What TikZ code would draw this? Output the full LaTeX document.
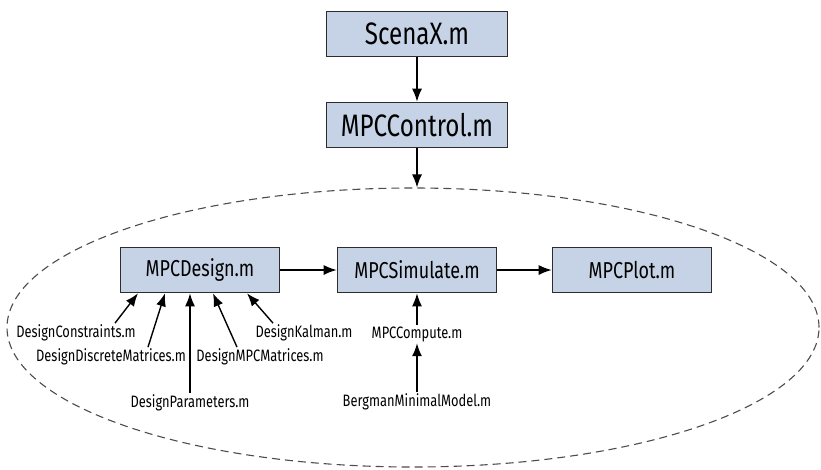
\documentclass[tikz,border=0pt]{standalone}
\usepackage{fontspec}
\setmainfont{Fira Sans}[FakeStretch=0.78]
\usetikzlibrary{arrows.meta,shapes.geometric}
\definecolor{boxBlue}{RGB}{198,211,230}
\definecolor{rimGray}{RGB}{45,45,45}
\tikzset{
  filebox/.style={draw=rimGray,fill=boxBlue,line width=1.6pt,minimum width=159pt,minimum height=45pt,inner sep=0pt,font=\fontsize{23}{26}\selectfont},
  topbox/.style={filebox,minimum width=181pt,font=\fontsize{31}{34}\selectfont},
  helper/.style={inner sep=1.5pt,font=\fontsize{16.5}{18}\selectfont},
  feed/.style={line width=1.4pt,-{Latex[length=13pt,width=10pt]}}
}
\begin{document}
\begin{tikzpicture}[x=1pt,y=-1pt]
\useasboundingbox (0,0) rectangle (821,469);
\node[ellipse,draw=rimGray!85,dashed,dash pattern=on 8pt off 5pt,line width=1.1pt,minimum width=812pt,minimum height=279pt,inner sep=0pt] (group) at (413,327.5) {};
\node[topbox] (scena) at (417,34) {ScenaX.m};
\node[topbox] (control) at (417,125) {MPCControl.m};
\node[filebox] (design) at (200,270) {MPCDesign.m};
\node[filebox] (simulate) at (417,270) {MPCSimulate.m};
\node[filebox] (plot) at (632,270) {MPCPlot.m};
\node[helper] (cons) at (76,333) {DesignConstraints.m};
\node[helper] (disc) at (111,357) {DesignDiscreteMatrices.m};
\node[helper] (par) at (190,403) {DesignParameters.m};
\node[helper] (mpcm) at (260,357) {DesignMPCMatrices.m};
\node[helper] (kal) at (304,333) {DesignKalman.m};
\node[helper] (compute) at (417,334) {MPCCompute.m};
\node[helper] (bergman) at (417,402) {BergmanMinimalModel.m};
\draw[feed] (scena) -- (control);
\draw[feed] (control) -- (control |- group.north);
\draw[feed] (design) -- (simulate);
\draw[feed] (simulate) -- (plot);
\draw[feed] (compute) -- (simulate);
\draw[feed] (bergman) -- (compute);
\draw[feed] ([xshift=39pt]cons.north) -- ([xshift=-62pt]design.south);
\draw[feed] ([xshift=37pt]disc.north) -- ([xshift=-35pt]design.south);
\draw[feed] (par) -- (par |- design.south);
\draw[feed] ([xshift=-23pt]mpcm.north) -- ([xshift=13pt]design.south);
\draw[feed] ([xshift=-31pt]kal.north) -- ([xshift=47pt]design.south);
\end{tikzpicture}
\end{document}
